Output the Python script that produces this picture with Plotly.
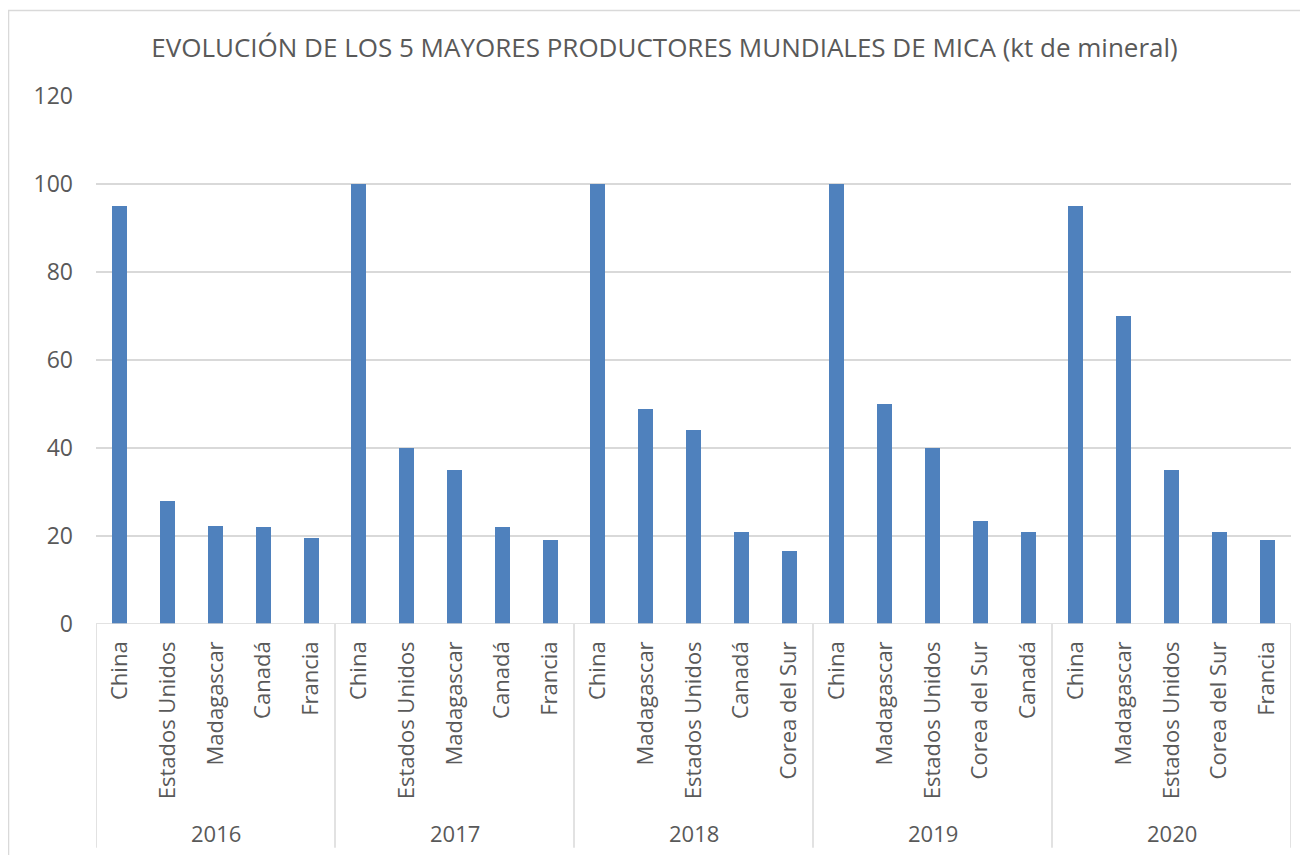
import plotly.graph_objects as go

years = ["2016", "2017", "2018", "2019", "2020"]
countries = [
    ["China", "Estados Unidos", "Madagascar", "Canadá", "Francia"],
    ["China", "Estados Unidos", "Madagascar", "Canadá", "Francia"],
    ["China", "Madagascar", "Estados Unidos", "Canadá", "Corea del Sur"],
    ["China", "Madagascar", "Estados Unidos", "Corea del Sur", "Canadá"],
    ["China", "Madagascar", "Estados Unidos", "Corea del Sur", "Francia"],
]
values = [
    [95, 28, 22.3, 22, 19.6],
    [100, 40, 35, 22, 19.2],
    [100, 48.8, 44, 21, 16.5],
    [100, 50, 40, 23.4, 21],
    [95, 70, 35, 21, 19],
]
y_ticks = [0, 20, 40, 60, 80, 100, 120]
title = "EVOLUCIÓN DE LOS 5 MAYORES PRODUCTORES MUNDIALES DE MICA (kt de mineral)"

FONT = "Open Sans"
TXT = "#595959"
GRID = "#d9d9d9"

labels, vals = [], []
for cs, vs in zip(countries, values):
    labels += cs
    vals += vs
pos = list(range(len(labels)))

fig = go.Figure(go.Bar(x=pos, y=vals, marker=dict(color="#4f81bd", line=dict(width=0)),
                       width=0.31, hoverinfo="y"))

shapes = []
shapes.append(dict(type="line", xref="x", yref="y", x0=-0.5, x1=len(pos) - 0.5, y0=0, y1=0,
                   line=dict(color=GRID, width=1.5)))
n = len(countries[0])
for g in range(len(years) + 1):
    xv = g * n - 0.5
    shapes.append(dict(type="line", xref="x", yref="paper", x0=xv, x1=xv, y0=0, y1=-0.424,
                       line=dict(color=GRID, width=1.5)))
shapes.append(dict(type="rect", xref="paper", yref="paper", x0=-0.0732, x1=1.03, y0=-0.7, y1=1.162,
                   line=dict(color=GRID, width=1.5), layer="below"))

annotations = []
for g, yr in enumerate(years):
    annotations.append(dict(x=g * n + (n - 1) / 2, y=-0.396, xref="x", yref="paper", text=yr,
                            showarrow=False, xanchor="center", yanchor="middle",
                            font=dict(family=FONT, size=22, color=TXT)))

fig.update_layout(
    width=1300, height=847,
    margin=dict(l=88, r=17, t=88, b=231),
    paper_bgcolor="white", plot_bgcolor="white",
    showlegend=False,
    title=dict(text=title, x=0.505, xanchor="center", y=1 - 40 / 847, yanchor="middle",
               font=dict(family=FONT, size=26, color=TXT)),
    shapes=shapes,
    annotations=annotations,
    bargap=0,
)
fig.update_xaxes(range=[-0.5, len(pos) - 0.5], tickmode="array", tickvals=pos, ticktext=labels,
                 tickangle=-90, showgrid=False, zeroline=False, showline=False, ticks="",
                 ticklabelstandoff=12,
                 tickfont=dict(family=FONT, size=22, color=TXT))
fig.update_yaxes(range=[0, 120], tickvals=y_ticks, showgrid=True, gridcolor=GRID, gridwidth=1.5,
                 zeroline=False, showline=False, ticks="", ticklabelstandoff=22,
                 tickfont=dict(family=FONT, size=23, color=TXT))

fig.write_html("out.html")
